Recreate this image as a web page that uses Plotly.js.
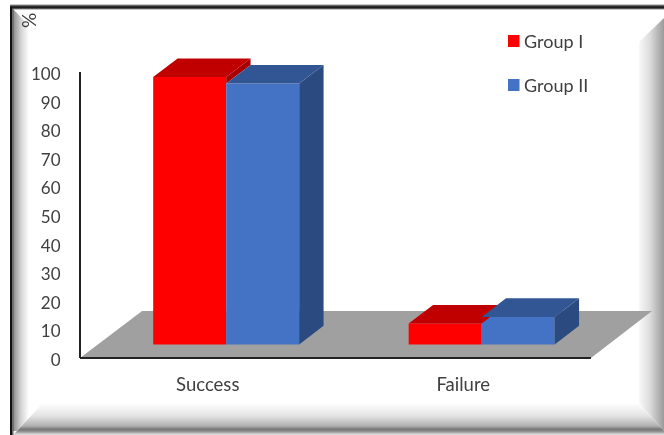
<!DOCTYPE html>
<html>
<head>
<meta charset="utf-8">
<script src="https://cdn.plot.ly/plotly-3.0.1.min.js"></script>
<style>
html,body{margin:0;padding:0;background:#fff;overflow:hidden}
#frame{position:absolute;left:0;top:0}
#chart{position:absolute;left:0;top:0;width:664px;height:435px;filter:blur(0.4px)}
</style>
</head>
<body>
<svg id="frame" width="664" height="435" xmlns="http://www.w3.org/2000/svg">
<defs>
<linearGradient id="gl" gradientUnits="userSpaceOnUse" x1="13" y1="0" x2="29" y2="0"><stop offset="0" stop-color="#8c8c8c"/><stop offset="0.5" stop-color="#d4d4d4"/><stop offset="1" stop-color="#fff"/></linearGradient>
<linearGradient id="gr" gradientUnits="userSpaceOnUse" x1="636" y1="0" x2="664" y2="0"><stop offset="0" stop-color="#fff"/><stop offset="0.5" stop-color="#dcdcdc"/><stop offset="1" stop-color="#9a9a9a"/></linearGradient>
<linearGradient id="gb" gradientUnits="userSpaceOnUse" x1="0" y1="403" x2="0" y2="435"><stop offset="0" stop-color="#fff"/><stop offset="0.4" stop-color="#e4e4e4"/><stop offset="0.72" stop-color="#b0b0b0"/><stop offset="0.82" stop-color="#777"/><stop offset="0.88" stop-color="#8a8a8a"/><stop offset="1" stop-color="#e8e8e8"/></linearGradient>
<linearGradient id="gt" gradientUnits="userSpaceOnUse" x1="0" y1="4" x2="0" y2="10"><stop offset="0" stop-color="#fff"/><stop offset="0.25" stop-color="#666"/><stop offset="0.5" stop-color="#111"/><stop offset="0.7" stop-color="#333"/><stop offset="1" stop-color="#fff"/></linearGradient>
</defs>
<polygon points="13,9 43,40 43,403 17,431 13,431" fill="url(#gl)"/>
<polygon points="664,18 639,42 639,403 664,431" fill="url(#gr)"/>
<polygon points="13,435 17,431 43,403 639,403 664,431 664,435" fill="url(#gb)"/>
<rect x="10" y="4" width="654" height="6" fill="url(#gt)"/>
<rect x="10" y="7" width="2.5" height="428" fill="#111"/>
<rect x="12.5" y="8" width="1" height="427" fill="#555"/>
</svg>
<div id="chart"></div>
<script>
// Chart data
var categories = ["Success", "Failure"];
var categoryPositions = [0, 1];
var seriesNames = ["Group I", "Group II"];
var groupI = [93.5, 7.3];
var groupII = [91.2, 9.6];
var yTicks = [0, 10, 20, 30, 40, 50, 60, 70, 80, 90, 100];
var yTitle = "%";

// Styles
var frontColors = ["#FF0000", "#4472C4"];
var topColors = ["#C00000", "#325594"];
var sideColors = ["#A80000", "#2A4A80"];
var textColor = "#404040";
var fontFamily = "Lato, 'Open Sans', sans-serif";

// Plot box in pixels: x 80..652, y 26..358, with 2.86 px per y unit
var plotL = 80, plotR = 652, plotT = 26, plotB = 358;
var yMax = (plotB - plotT) / 2.86;
function px(x) { return (x - plotL) / (plotR - plotL); }
function py(y) { return (plotB - y) / (plotB - plotT); }

// Projection in axis units
var depthX = 0.0955, depthY = 6.5, floorBase = 4.75;
var barWidth = 0.2857, groupLeft = -0.2135;

var allSeries = [groupI, groupII];
var traces = [];

// Front faces
allSeries.forEach(function (vals, s) {
  traces.push({
    type: "bar", name: seriesNames[s], x: categoryPositions, y: vals,
    base: floorBase, width: barWidth, offset: groupLeft + s * barWidth,
    marker: {color: frontColors[s], line: {width: 0}},
    showlegend: false, hoverinfo: "y"
  });
});

function poly(xs, ys, color) {
  traces.push({
    type: "scatter", mode: "lines", x: xs, y: ys, fill: "toself", fillcolor: color,
    line: {width: 0, color: color}, showlegend: false, hoverinfo: "skip", cliponaxis: false
  });
}

// Top and side faces; later series sit in front of earlier ones
allSeries.forEach(function (vals, s) {
  vals.forEach(function (v, i) {
    var x0 = categoryPositions[i] + groupLeft + s * barWidth;
    var x1 = x0 + barWidth;
    var t = v + floorBase;
    var low = floorBase;
    if (s < allSeries.length - 1) {
      low = Math.min(v, allSeries[s + 1][i]) + floorBase;
    }
    poly([x1, x1 + depthX, x1 + depthX, x1, x1], [t, t + depthY, low + depthY, low, t], sideColors[s]);
    poly([x0, x0 + depthX, x1 + depthX, x1, x0], [t, t + depthY, t + depthY, t, t], topColors[s]);
  });
});

var shapes = [
  {type: "path", layer: "below", xref: "x", yref: "y", line: {width: 0}, fillcolor: "#A0A0A0",
   path: "M -0.5 0 L -0.257 16.4 L 1.739 16.4 L 1.5 0 Z"},
  {type: "line", layer: "above", xref: "x", yref: "paper", x0: -0.5, x1: 1.5, y0: 0, y1: 0,
   line: {color: "#222", width: 2}},
  {type: "line", layer: "above", xref: "paper", yref: "y", x0: 0, x1: 0, y0: 0, y1: 100,
   line: {color: "#222", width: 2}}
];

var annotations = [
  {xref: "paper", yref: "paper", x: px(28), y: py(21), text: yTitle, textangle: -90,
   showarrow: false, font: {family: fontFamily, size: 19, color: textColor}, xanchor: "center", yanchor: "middle"}
];
var legendY = [41, 85];
seriesNames.forEach(function (n, s) {
  annotations.push({xref: "paper", yref: "paper", x: px(522), y: py(legendY[s]), text: n,
    showarrow: false, xanchor: "left", yanchor: "middle",
    font: {family: fontFamily, size: 18, color: textColor}});
  shapes.push({type: "rect", xref: "paper", yref: "paper", fillcolor: frontColors[s], line: {width: 0},
    x0: px(508), x1: px(519.5), y0: py(legendY[s] + 6), y1: py(legendY[s] - 6)});
});

var layout = {
  width: 664, height: 435,
  margin: {l: plotL, r: 664 - plotR, t: plotT, b: 435 - plotB, pad: 0},
  paper_bgcolor: "rgba(0,0,0,0)", plot_bgcolor: "rgba(0,0,0,0)",
  showlegend: false, barmode: "overlay",
  font: {family: fontFamily, size: 18, color: textColor},
  xaxis: {range: [-0.5, 1.739], tickvals: categoryPositions, ticktext: categories,
          showgrid: false, zeroline: false, showline: false, tickfont: {size: 18.5},
          ticks: "outside", ticklen: 10, tickcolor: "rgba(0,0,0,0)", fixedrange: true},
  yaxis: {range: [0, yMax], tickvals: yTicks, ticktext: yTicks.map(String),
          showgrid: false, zeroline: false, showline: false, tickfont: {size: 17},
          ticks: "outside", ticklen: 15, ticklabelshift: 2, tickcolor: "rgba(0,0,0,0)", fixedrange: true},
  shapes: shapes, annotations: annotations
};

Plotly.newPlot("chart", traces, layout, {displayModeBar: false, staticPlot: true});
</script>
</body>
</html>
